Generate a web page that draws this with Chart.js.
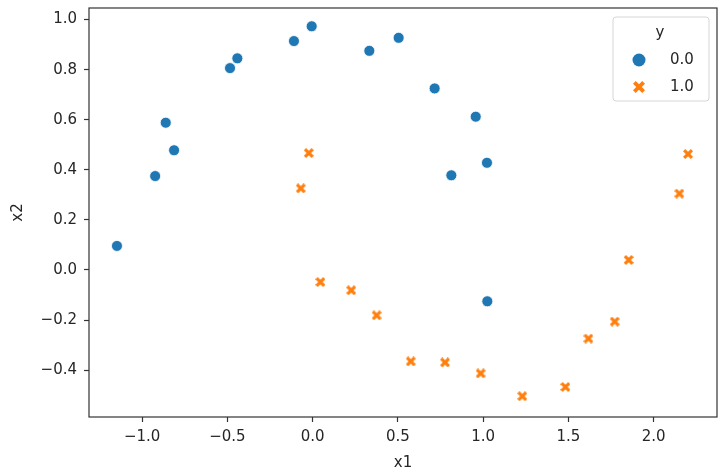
<!DOCTYPE html>
<html>
<head>
<meta charset="utf-8">
<script src="https://cdn.jsdelivr.net/npm/chart.js@4.4.1/dist/chart.umd.min.js"></script>
<style>
  html, body { margin: 0; padding: 0; background: #fff; }
  #wrap { width: 724px; height: 475px; }
</style>
</head>
<body>
<div id="wrap"><canvas id="c" width="724" height="475"></canvas></div>
<script>
// ---- data ----
const class0X = [-1.148, -0.924, -0.862, -0.813, -0.485, -0.442, -0.110, -0.006, 0.332, 0.504, 0.715, 0.956, 1.022, 0.813, 1.024];
const class0Y = [0.096, 0.375, 0.588, 0.478, 0.806, 0.845, 0.914, 0.973, 0.875, 0.927, 0.725, 0.612, 0.428, 0.378, -0.125];
const class1X = [-0.023, -0.070, 2.201, 2.150, 0.045, 0.226, 0.375, 0.575, 0.776, 0.985, 1.229, 1.482, 1.617, 1.771, 1.853];
const class1Y = [0.467, 0.326, 0.463, 0.305, -0.048, -0.081, -0.181, -0.365, -0.369, -0.413, -0.504, -0.467, -0.274, -0.206, 0.040];
const seriesNames = ['0.0', '1.0'];
const legendTitle = 'y';
const xTitle = 'x1';
const yTitle = 'x2';
const xTicks = [-1.0, -0.5, 0.0, 0.5, 1.0, 1.5, 2.0];
const yTicks = [-0.4, -0.2, 0.0, 0.2, 0.4, 0.6, 0.8, 1.0];

const BLUE = '#1f77b4';
const ORANGE = '#ff7f0e';
const FONT = 'DejaVu Sans';
const FSIZE = 15;
const TEXT = '#262626';

function makeX(size, color) {
  const c = document.createElement('canvas');
  c.width = c.height = size;
  const g = c.getContext('2d');
  const s = size / 2;
  g.translate(s, s);
  g.rotate(Math.PI / 4);
  g.fillStyle = color;
  const t = size * 0.16;
  const a = s * Math.SQRT2 - t;
  g.fillRect(-a, -t, 2 * a, 2 * t);
  g.fillRect(-t, -a, 2 * t, 2 * a);
  return c;
}
const xMarker = makeX(10, ORANGE);
const xMarkerLegend = makeX(12, ORANGE);

const fmt = v => v.toFixed(1).replace('-', '\u2212');

const framePlugin = {
  id: 'frame',
  afterDatasetsDraw(chart) {
    const a = chart.chartArea, ctx = chart.ctx;
    ctx.save();
    ctx.strokeStyle = '#333333';
    ctx.lineWidth = 1.2;
    ctx.strokeRect(a.left, a.top, a.right - a.left, a.bottom - a.top);
    ctx.restore();
  }
};

const legendPlugin = {
  id: 'boxLegend',
  afterDraw(chart) {
    const a = chart.chartArea, ctx = chart.ctx;
    const w = 96, h = 84;
    const x0 = a.right - 8 - w, y0 = a.top + 9;
    ctx.save();
    ctx.beginPath();
    ctx.roundRect(x0, y0, w, h, 3);
    ctx.fillStyle = 'rgba(255,255,255,0.8)';
    ctx.fill();
    ctx.strokeStyle = '#d6d6d6';
    ctx.lineWidth = 1;
    ctx.stroke();
    ctx.fillStyle = TEXT;
    ctx.font = FSIZE + 'px "' + FONT + '"';
    ctx.textAlign = 'center';
    ctx.textBaseline = 'middle';
    ctx.fillText(legendTitle, x0 + 47, y0 + 16);
    const mx = x0 + 26;
    const rows = [y0 + 43, y0 + 70];
    ctx.beginPath();
    ctx.arc(mx, rows[0], 6.5, 0, Math.PI * 2);
    ctx.fillStyle = BLUE;
    ctx.fill();
    ctx.drawImage(xMarkerLegend, mx - 6, rows[1] - 6);
    ctx.fillStyle = TEXT;
    ctx.textAlign = 'left';
    ctx.fillText(seriesNames[0], x0 + 57, rows[0]);
    ctx.fillText(seriesNames[1], x0 + 57, rows[1]);
    ctx.restore();
  }
};

const tickOpts = { color: TEXT, font: { family: FONT, size: FSIZE } };

new Chart(document.getElementById('c'), {
  type: 'scatter',
  data: {
    datasets: [
      {
        label: seriesNames[0],
        data: class0X.map((x, i) => ({ x: x, y: class0Y[i] })),
        pointStyle: 'circle',
        pointRadius: 5.5,
        pointBackgroundColor: BLUE,
        pointBorderColor: '#ffffff',
        pointBorderWidth: 0.8
      },
      {
        label: seriesNames[1],
        data: class1X.map((x, i) => ({ x: x, y: class1Y[i] })),
        pointStyle: xMarker,
        pointRadius: 5,
        pointBackgroundColor: ORANGE,
        pointBorderColor: ORANGE
      }
    ]
  },
  options: {
    responsive: false,
    animation: false,
    devicePixelRatio: 1,
    layout: { padding: { left: 0, right: 7, top: 8, bottom: 0 } },
    plugins: { legend: { display: false }, tooltip: { enabled: false } },
    scales: {
      x: {
        type: 'linear',
        min: -1.312, max: 2.371,
        afterBuildTicks: s => { s.ticks = xTicks.map(v => ({ value: v })); },
        afterFit: s => { s.height = 58; s.paddingLeft = 0; s.paddingRight = 0; },
        ticks: Object.assign({ padding: 6, callback: v => fmt(v), maxRotation: 0 }, tickOpts),
        grid: { display: true, drawOnChartArea: false, drawTicks: true, tickLength: 5, tickColor: '#333333', tickWidth: 1.2 },
        border: { display: false },
        title: { display: true, text: xTitle, color: TEXT, font: { family: FONT, size: FSIZE }, padding: { top: 0, bottom: 3 } }
      },
      y: {
        type: 'linear',
        min: -0.587, max: 1.046,
        afterBuildTicks: s => { s.ticks = yTicks.map(v => ({ value: v })); },
        afterFit: s => { s.width = 89; s.paddingTop = 0; s.paddingBottom = 0; },
        ticks: Object.assign({ padding: 7, callback: v => fmt(v) }, tickOpts),
        grid: { display: true, drawOnChartArea: false, drawTicks: true, tickLength: 5, tickColor: '#333333', tickWidth: 1.2 },
        border: { display: false },
        title: { display: true, text: yTitle, color: TEXT, font: { family: FONT, size: FSIZE }, padding: { top: 9, bottom: 0 } }
      }
    }
  },
  plugins: [framePlugin, legendPlugin]
});
</script>
</body>
</html>
